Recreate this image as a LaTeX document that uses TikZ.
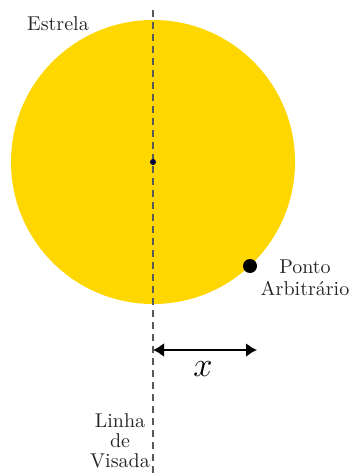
\documentclass[tikz,border=0pt]{standalone}
\usetikzlibrary{arrows.meta}
\definecolor{star}{HTML}{FED700}
\begin{document}
\begin{tikzpicture}[x=0.5pt,y=-0.5pt,
  lbl/.style={font=\normalsize, text=black!85, inner sep=0pt, align=center}]
\useasboundingbox (0,0) rectangle (354,476);
\fill[star] (153,162) circle[radius=142];
\coordinate (top) at (153,10);
\coordinate (bot) at (153,476);
\draw[black!65, line width=0.6pt, dash pattern=on 3.5pt off 2.5pt] (top) -- (bot);
\node[circle, fill=black!75!blue, inner sep=0pt, minimum size=3pt] (c) at (153,162) {};
\node[circle, fill=black, inner sep=0pt, minimum size=7pt] (p) at (250,266) {};
\node[lbl] (estrela) at (58,24) {Estrela};
\node[lbl] (ponto) at (305,278) {Ponto\\[-1pt]Arbitr\'ario};
\coordinate (a1) at (153,350);
\coordinate (a2) at (257,350);
\draw[{Latex[length=5.5pt,width=7pt]}-{Latex[length=5.5pt,width=7pt]}, line width=1pt] (a1) -- (a2);
\node[inner sep=0pt] (xl) at (203,369) {\LARGE $x$};
\node[lbl] (linha) at (120,441) {Linha\\[-2pt]de\\[-2pt]Visada};
\end{tikzpicture}
\end{document}
